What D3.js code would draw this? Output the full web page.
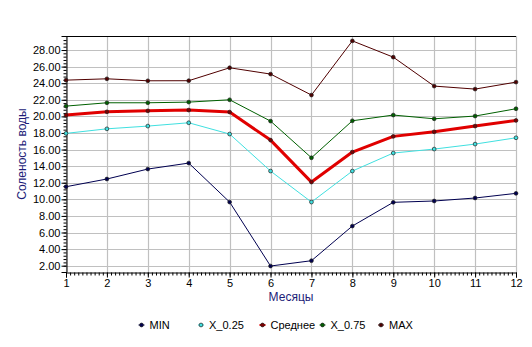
<!DOCTYPE html>
<html><head><meta charset="utf-8">
<script src="https://cdn.jsdelivr.net/npm/d3@7"></script>
<style>body{margin:0;background:#fff}svg{display:block}text{font-family:"Liberation Sans",Arial,sans-serif}</style>
</head><body>
<svg id="c" width="532" height="347"></svg>
<script>
const months = [1,2,3,4,5,6,7,8,9,10,11,12];
const minVals  = [11.52,12.45,13.65,14.37,9.67,1.96,2.6,6.78,9.64,9.8,10.16,10.72];
const q25Vals  = [17.95,18.5,18.83,19.23,17.87,13.41,9.67,13.41,15.58,16.06,16.66,17.42];
const meanVals = [20.16,20.55,20.67,20.76,20.52,17.14,12.08,15.7,17.59,18.14,18.83,19.51];
const q75Vals  = [21.24,21.64,21.64,21.72,22.0,19.43,15.01,19.47,20.16,19.71,20.04,20.92];
const maxVals  = [24.37,24.53,24.29,24.3,25.86,25.1,22.57,29.1,27.14,23.65,23.29,24.13];
const yTicks = [2,4,6,8,10,12,14,16,18,20,22,24,26,28];
const seriesNames = ["MIN","X_0.25","Среднее","X_0.75","MAX"];

const series = [
  {name:seriesNames[0], vals:minVals,  color:"#000050", fill:"#000050", w:1},
  {name:seriesNames[1], vals:q25Vals,  color:"#40e0e0", fill:"#40e0e0", w:1},
  {name:seriesNames[2], vals:meanVals, color:"#e00000", fill:"#800000", w:3},
  {name:seriesNames[3], vals:q75Vals,  color:"#006000", fill:"#006000", w:1},
  {name:seriesNames[4], vals:maxVals,  color:"#500000", fill:"#500000", w:1}
];

const svg = d3.select("#c");
const L=66, R=516, T=36, B=272;
const x = d3.scaleLinear().domain([1,12]).range([L,R]);
const y = d3.scaleLinear().domain([1.24,29.69]).range([B,T]);

// grid
const g = svg.append("g");
g.selectAll(".vg").data(months).join("line")
  .attr("x1",d=>Math.round(x(d))+0.5).attr("x2",d=>Math.round(x(d))+0.5)
  .attr("y1",T).attr("y2",B).attr("stroke","#c0c0c0").attr("stroke-width",1.2);
g.selectAll(".hg").data(yTicks).join("line")
  .attr("x1",L).attr("x2",R)
  .attr("y1",d=>Math.round(y(d))+0.5).attr("y2",d=>Math.round(y(d))+0.5)
  .attr("stroke","#c0c0c0").attr("stroke-width",1.2);
// top border
svg.append("line").attr("x1",L).attr("x2",R).attr("y1",T+0.5).attr("y2",T+0.5).attr("stroke","#000");

// axes
const xMinor = d3.range(1,12.001,0.1);
const xa = svg.append("g").attr("transform",`translate(0,${B+0.5})`)
  .call(d3.axisBottom(x).tickValues(xMinor).tickSize(3).tickFormat(""));
xa.select(".domain").remove();
const xb = svg.append("g").attr("transform",`translate(0,${B+0.5})`)
  .call(d3.axisBottom(x).tickValues(months).tickSize(5).tickPadding(2).tickFormat(d3.format("d")));
xb.select(".domain").attr("stroke","#000");
xb.selectAll("text").attr("font-size",11).attr("fill","#000");

const yMinor = d3.range(2,29.5,0.4);
const ya = svg.append("g").attr("transform",`translate(${L+0.5},0)`)
  .call(d3.axisLeft(y).tickValues(yMinor).tickSize(3).tickFormat(""));
ya.select(".domain").remove();
const yb = svg.append("g").attr("transform",`translate(${L+0.5},0)`)
  .call(d3.axisLeft(y).tickValues(yTicks).tickSize(5).tickPadding(1).tickFormat(d3.format(".2f")));
yb.select(".domain").attr("stroke","#000");
yb.selectAll("text").attr("font-size",11).attr("fill","#000");
svg.selectAll(".tick line").attr("stroke","#000");

// lines
const line = d3.line().x((d,i)=>x(months[i])).y(d=>y(d));
series.forEach(s=>{
  svg.append("path").attr("d",line(s.vals)).attr("fill","none")
    .attr("stroke",s.color).attr("stroke-width",s.w).attr("stroke-linejoin","round");
});
series.forEach(s=>{
  svg.append("g").selectAll("circle").data(s.vals).join("circle")
    .attr("cx",(d,i)=>x(months[i])).attr("cy",d=>y(d)).attr("r",1.9)
    .attr("fill",s.fill).attr("stroke","#202020").attr("stroke-width",0.7);
});

// titles
svg.append("text").attr("x",(L+R)/2).attr("y",301).attr("text-anchor","middle")
  .attr("font-size",12).attr("fill","#1c1c78").text("Месяцы");
svg.append("text").attr("transform",`translate(26,${(T+B)/2}) rotate(-90)`).attr("text-anchor","middle")
  .attr("font-size",12).attr("fill","#1c1c78").text("Соленость воды");

// legend
const legX = [141.5,201,262.5,322.5,381];
const lg = svg.append("g");
series.forEach((s,i)=>{
  const cx = legX[i], cy = 325;
  lg.append("line").attr("x1",cx-3).attr("x2",cx+3).attr("y1",cy).attr("y2",cy)
    .attr("stroke",s.color).attr("stroke-width",s.w===3?2:1);
  lg.append("circle").attr("cx",cx).attr("cy",cy).attr("r",1.9)
    .attr("fill",s.fill).attr("stroke","#202020").attr("stroke-width",0.7);
  lg.append("text").attr("x",cx+8).attr("y",cy+4).attr("font-size",11).attr("fill","#000").text(s.name);
});
</script>
</body></html>
